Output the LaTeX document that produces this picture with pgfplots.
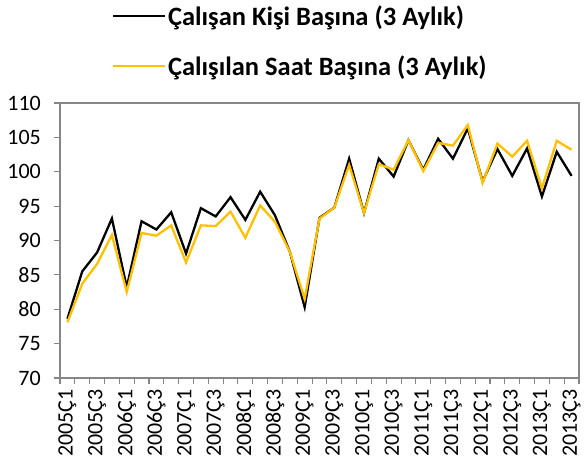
\documentclass[border=0pt]{standalone}
\usepackage{pgfplots}
\pgfplotsset{compat=1.18}
\usepackage{fontspec}
\setmainfont{Carlito}
\definecolor{axgray}{HTML}{868686}
\definecolor{gold}{HTML}{FFC000}

\begin{document}
\begin{tikzpicture}
\useasboundingbox (-60pt,-84pt) rectangle (524pt,378pt);
\begin{axis}[
    scale only axis,
    width=519pt,
    height=275pt,
    xmin=-0.5, xmax=34.5,
    ymin=70, ymax=110,
    ytick={70,75,...,110},
    xtick={-0.5,0.5,...,34.5},
    xticklabels={},
    extra x ticks={0,2,...,34},
    extra x tick labels={2005Ç1,2005Ç3,2006Ç1,2006Ç3,2007Ç1,2007Ç3,2008Ç1,2008Ç3,2009Ç1,2009Ç3,2010Ç1,2010Ç3,2011Ç1,2011Ç3,2012Ç1,2012Ç3,2013Ç1,2013Ç3},
    extra x tick style={major tick length=0pt},
    xtick pos=bottom, ytick pos=left,
    tick align=outside,
    major tick length=6pt,
    axis line style={axgray, line width=1.3pt},
    tick style={axgray, line width=1.1pt},
    tick label style={font=\fontsize{22}{25}\selectfont, /pgf/number format/assume math mode=true},
    x tick label style={rotate=90, anchor=east, inner xsep=11pt, inner ysep=1pt},
    yticklabel style={inner xsep=3pt, xshift=-10pt},
    legend style={at={(0.463,1.37)}, anchor=north, draw=none, fill=none,
        font=\bfseries\fontsize{26.5}{30}\selectfont, row sep=25pt,
        /tikz/every even column/.append style={column sep=0pt}},
    legend cell align=left,
    legend image code/.code={\draw[#1, line width=2pt] (0pt,0pt) -- (52pt,0pt);},
]
\addplot[black, line width=2.3pt] coordinates {
(0,78.6) (1,85.5) (2,88.25) (3,93.2) (4,83.2) (5,92.8) (6,91.6) (7,94.1) (8,88.1)
(9,94.7) (10,93.5) (11,96.3) (12,93.0) (13,97.1) (14,93.65) (15,88.35) (16,80.3)
(17,93.3) (18,94.8) (19,101.9) (20,94.0) (21,101.9) (22,99.3) (23,104.6) (24,100.3)
(25,104.8) (26,101.9) (27,106.3) (28,98.6) (29,103.3) (30,99.4) (31,103.4) (32,96.4)
(33,102.9) (34,99.4)};
\addlegendentry{Çalışan Kişi Başına (3 Aylık)}
\addplot[gold, line width=2.3pt] coordinates {
(0,78.1) (1,83.7) (2,86.6) (3,90.8) (4,82.5) (5,91.1) (6,90.7) (7,92.2) (8,86.8)
(9,92.2) (10,92.1) (11,94.2) (12,90.4) (13,95.1) (14,92.7) (15,88.35) (16,81.5)
(17,93.2) (18,94.8) (19,101.0) (20,94.0) (21,101.1) (22,100.3) (23,104.6) (24,100.1)
(25,104.2) (26,103.8) (27,106.8) (28,98.4) (29,104.1) (30,102.2) (31,104.5) (32,97.6)
(33,104.5) (34,103.2)};
\addlegendentry{Çalışılan Saat Başına (3 Aylık)}
\end{axis}
\end{tikzpicture}
\end{document}
